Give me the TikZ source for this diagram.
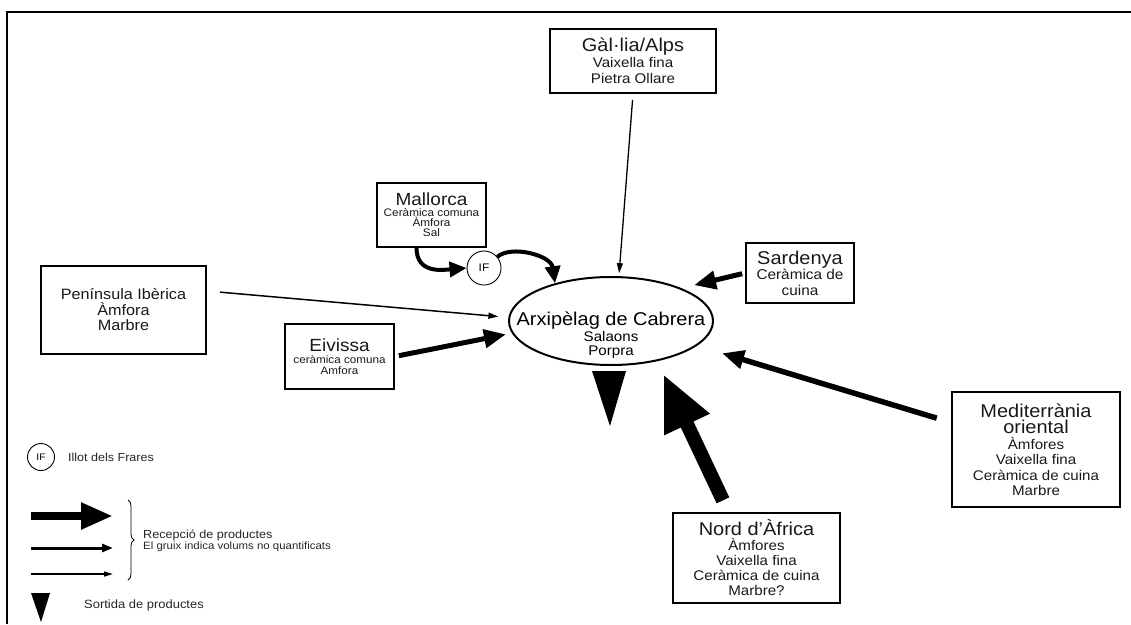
\documentclass[tikz,border=0pt]{standalone}
\usepackage{fontspec}
\setmainfont[FakeStretch=1.08]{Liberation Sans}
\usetikzlibrary{arrows.meta,shapes.geometric,decorations.pathreplacing}
\newcommand{\fsz}[2]{\fontsize{#1}{#2}\selectfont}
\begin{document}
\begin{tikzpicture}[x=1pt,y=-1pt,
  box/.style={draw,line width=1.8pt,rectangle,inner sep=0pt,align=center,text=black!90},
  ifc/.style={draw,circle,line width=0.9pt,inner sep=0pt},
  thinarrow/.style={line width=1.3pt,-{Triangle[length=10pt,width=6pt]}},
  medarrow/.style={line width=5pt,-{Triangle[length=22pt,width=18pt]}},
  curvarrow/.style={line width=4pt,-{Triangle[length=17pt,width=15pt]}},
  bigarrow/.style={line width=14pt,-{Triangle[length=56pt,width=46pt]}},
  legtxt/.style={anchor=west,inner sep=0pt,text=black!85}]
\useasboundingbox (0,0) rectangle (1131,624);
% frame
\draw[line width=2pt] (1131,12) -- (7,12) -- (7,624);

% central island
\node[draw,ellipse,line width=2pt,minimum width=204pt,minimum height=88pt,inner sep=0pt] (arx) at (611,321) {};
\node[inner sep=0pt,align=center,font=\fsz{14}{14.5}] (arxt) at (611,335)
  {{\fsz{18.5}{14.5}Arxipèlag de Cabrera}\\[1.5pt]Salaons\\Porpra};

% source boxes
\node[box,minimum width=166pt,minimum height=64pt,font=\fsz{14}{16}] (gal) at (633,61)
  {{\fsz{18.5}{16}Gàl·lia/Alps}\\Vaixella fina\\Pietra Ollare};
\node[box,minimum width=109pt,minimum height=64pt,font=\fsz{10.9}{10}] (mall) at (431.5,215)
  {{\fsz{17.6}{14}Mallorca}\\[1pt]Ceràmica comuna\\Àmfora\\Sal};
\node[box,minimum width=165pt,minimum height=88pt,font=\fsz{15}{15.5}] (pen) at (123.5,310)
  {Península Ibèrica\\Àmfora\\Marbre};
\node[box,minimum width=109pt,minimum height=65pt,font=\fsz{10.8}{10.5}] (eiv) at (339.5,356.5)
  {{\fsz{17.6}{14}Eivissa}\\[2pt]ceràmica comuna\\Amfora};
\node[box,minimum width=108pt,minimum height=60pt,font=\fsz{14.2}{15.5}] (sar) at (800,273)
  {{\fsz{18.5}{15.5}Sardenya}\\Ceràmica de\\cuina};
\node[box,minimum width=168pt,minimum height=115pt,font=\fsz{14}{15.5}] (med) at (1036,449.5)
  {{\fsz{18.5}{18}Mediterrània}\\[1pt]{\fsz{18.5}{18}oriental}\\Àmfores\\Vaixella fina\\Ceràmica de cuina\\Marbre};
\node[box,minimum width=167pt,minimum height=90pt,font=\fsz{14}{15}] (nord) at (756.5,558)
  {{\fsz{18.5}{15}Nord d'Àfrica}\\Àmfores\\Vaixella fina\\Ceràmica de cuina\\Marbre?};

% Illot dels Frares
\node[ifc,minimum size=34pt,font=\fsz{11}{11}] (if) at (484,268) {IF};

% connectors
\draw[thinarrow,shorten <=6pt,shorten >=3pt] (gal.south) -- (arx.80);
\draw[thinarrow,line width=1.5pt,shorten <=13pt,shorten >=10pt] ([yshift=19pt]pen.east) -- (arx.178);
\draw[medarrow,shorten <=4pt,shorten >=6pt] (eiv.east) -- (arx.187);
\draw[medarrow,shorten <=3pt,shorten >=13pt] (sar.west) -- (arx.25);
\draw[medarrow,line width=5.5pt,shorten <=15pt,shorten >=26pt] ([yshift=27pt]med.west) -- (arx.-16);
\draw[bigarrow,shorten <=13pt,shorten >=14pt] ([xshift=-28pt]nord.north) -- (arx.-41);
\draw[curvarrow] ([xshift=-15pt]mall.south) .. controls +(0,26) and +(-24,2) .. (if.west);
\draw[curvarrow] (if.40) .. controls +(14,-12) and +(-4,-28) .. (arx.146);

% outgoing products
\fill (592,371) -- (626,371) -- (610,426) -- cycle;

% legend
\node[ifc,minimum size=27pt,font=\fsz{9.5}{10}] (ifl) at (41,457) {IF};
\node[legtxt,font=\fsz{11.6}{12}] (ifltxt) at (68,457) {Illot dels Frares};
\coordinate (l1a) at (31,516); \coordinate (l1b) at (113,516);
\coordinate (l2a) at (31,548); \coordinate (l2b) at (113,548);
\coordinate (l3a) at (31,574); \coordinate (l3b) at (113,574);
\draw[line width=8pt,-{Triangle[length=32pt,width=25pt]}] (l1a) -- (l1b);
\draw[line width=3pt,-{Triangle[length=11pt,width=8pt]}] (l2a) -- (l2b);
\draw[line width=1.5pt,-{Triangle[length=9pt,width=5pt]}] (l3a) -- (l3b);
\coordinate (bra) at (128,500); \coordinate (brb) at (128,580);
\draw[line width=0.8pt,decorate,decoration={brace,amplitude=6pt}] (bra) -- (brb);
\node[legtxt,font=\fsz{11.7}{12}] (rec) at (143,535) {Recepció de productes};
\node[legtxt,font=\fsz{10.6}{11}] (gruix) at (143,547) {El gruix indica volums no quantificats};
\fill (31,593) -- (50,593) -- (41,622) -- cycle;
\node[legtxt,font=\fsz{12}{12}] (sort) at (84,605) {Sortida de productes};
\end{tikzpicture}
\end{document}
